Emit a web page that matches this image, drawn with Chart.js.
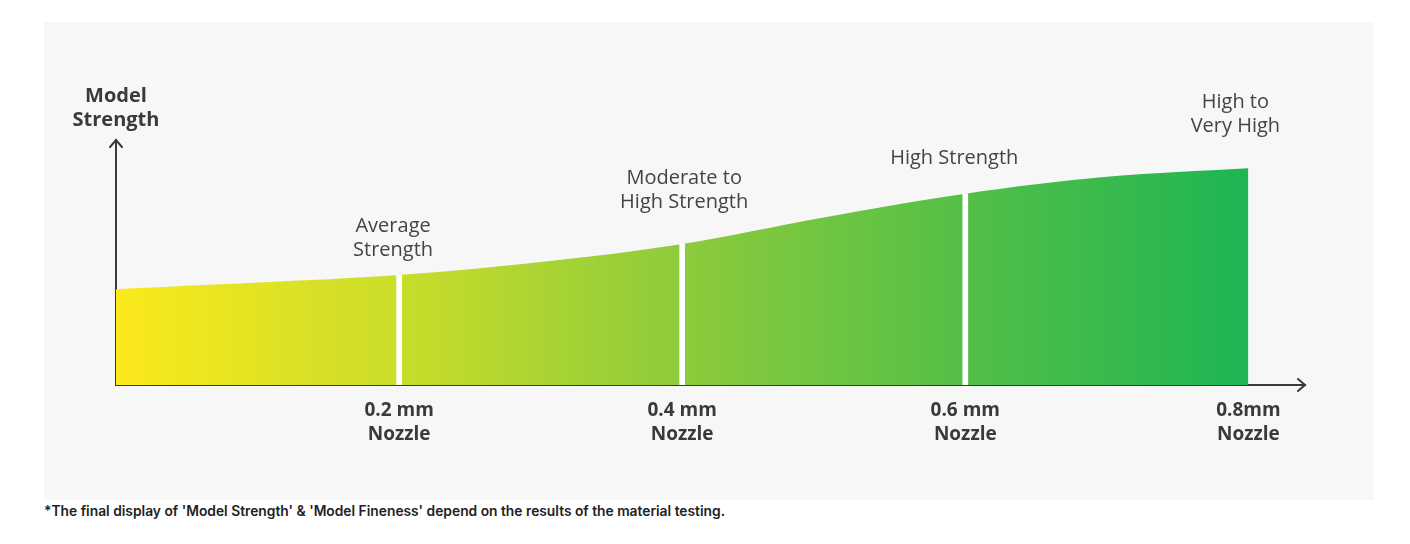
<!DOCTYPE html>
<html>
<head>
<meta charset="utf-8">
<script src="https://cdn.jsdelivr.net/npm/chart.js@4.4.1/dist/chart.umd.min.js"></script>
<style>
  html, body { margin: 0; padding: 0; background: #ffffff; }
  body { width: 1410px; height: 544px; position: relative; overflow: hidden; }
  #panel { position: absolute; left: 44px; top: 22px; width: 1330px; height: 478px; background: #f7f7f7; }
  #panel canvas { display: block; }
  #note {
    position: absolute; left: 44px; top: 503px;
    font-family: Inter, "Noto Sans", sans-serif; font-weight: 600; font-size: 13.8px;
    color: #222; white-space: nowrap;
  }
</style>
</head>
<body>
<div id="panel"><canvas id="chart" width="1330" height="478"></canvas></div>
<div id="note">*The final display of 'Model Strength' &amp; 'Model Fineness' depend on the results of the material testing.</div>
<script>
// ---- data ----
const nozzleSizes = [0.2, 0.4, 0.6, 0.8];
const tickLabels = [['0.2 mm', 'Nozzle'], ['0.4 mm', 'Nozzle'], ['0.6 mm', 'Nozzle'], ['0.8mm', 'Nozzle']];
const curveX = [0, 0.1, 0.2, 0.3, 0.4, 0.5, 0.6, 0.7, 0.8];
const curveY = [39.1, 41.8, 44.9, 50.2, 57.6, 68.4, 78.1, 85.0, 88.5];
const dividerX = [0.2, 0.4, 0.6];
const strengthLabels = [['Average', 'Strength'], ['Moderate to', 'High Strength'], ['High Strength'], ['High to', 'Very High']];
const axisTitle = ['Model', 'Strength'];

const curveAt = (x) => curveY[curveX.indexOf(x)];

const AXIS = '#3a3a3a';
const TEXT = '#444444';

function fillGradient(ctx) {
  const chart = ctx.chart;
  const { chartArea, scales } = chart;
  if (!chartArea) return '#8ccb3b';
  const x0 = scales.x.getPixelForValue(0);
  const x1 = scales.x.getPixelForValue(0.8);
  const g = chart.ctx.createLinearGradient(x0, 0, x1, 0);
  g.addColorStop(0, '#fce91c');
  g.addColorStop(0.25, '#c9dd2a');
  g.addColorStop(0.5, '#8dcb3b');
  g.addColorStop(0.75, '#53bf47');
  g.addColorStop(1, '#1eb553');
  return g;
}

// arrows + text annotations
const decor = {
  id: 'decor',
  afterDraw(chart, args, opts) {
    const { ctx, chartArea: a, scales } = chart;
    ctx.save();
    // arrow heads
    ctx.strokeStyle = AXIS;
    ctx.lineWidth = 2;
    ctx.lineCap = 'round';
    ctx.beginPath();
    ctx.moveTo(a.left - 6, a.top + 7);
    ctx.lineTo(a.left, a.top);
    ctx.lineTo(a.left + 6, a.top + 7);
    ctx.moveTo(a.right - 7, a.bottom - 6);
    ctx.lineTo(a.right, a.bottom);
    ctx.lineTo(a.right - 7, a.bottom + 6);
    ctx.stroke();

    // axis title
    ctx.fillStyle = AXIS;
    ctx.textAlign = 'center';
    ctx.textBaseline = 'middle';
    ctx.font = 'bold 20px "Open Sans", sans-serif';
    axisTitle.forEach((t, i) => {
      ctx.fillText(t, a.left, a.top - 20 - (axisTitle.length - 1 - i) * 24);
    });

    // strength labels above the curve
    ctx.fillStyle = TEXT;
    ctx.font = '20px "Open Sans", sans-serif';
    strengthLabels.forEach((lines, i) => {
      const v = nozzleSizes[i];
      const x = scales.x.getPixelForValue(v) + opts.dx[i];
      const yb = scales.y.getPixelForValue(curveAt(v)) - opts.lift[i];
      lines.forEach((t, j) => {
        ctx.fillText(t, x, yb - (lines.length - 1 - j) * 24);
      });
    });
    ctx.restore();
  }
};

new Chart(document.getElementById('chart'), {
  type: 'line',
  data: {
    datasets: [
      {
        type: 'bar',
        data: dividerX.map(x => ({ x, y: curveAt(x) })),
        backgroundColor: '#ffffff',
        borderWidth: 0,
        barThickness: 5,
        order: 0,
      },
      {
        data: curveX.map((x, i) => ({ x, y: curveY[i] })),
        fill: 'origin',
        backgroundColor: fillGradient,
        borderColor: 'transparent',
        borderWidth: 0,
        pointRadius: 0,
        tension: 0.35,
        order: 1,
      },
    ],
  },
  options: {
    responsive: false,
    animation: false,
    events: [],
    layout: { padding: { top: 118, left: 64, right: 69, bottom: 47 } },
    plugins: {
      legend: { display: false },
      tooltip: { enabled: false },
      decor: { dx: [-6, 2, -11, -13], lift: [25, 42, 35, 42] },
    },
    scales: {
      x: {
        type: 'linear',
        min: 0,
        max: 0.84,
        offset: false,
        z: 1,
        grid: { display: false },
        border: { color: AXIS, width: 2 },
        afterBuildTicks: (scale) => { scale.ticks = nozzleSizes.map(v => ({ value: v })); },
        ticks: {
          autoSkip: false,
          maxRotation: 0,
          padding: 6,
          color: AXIS,
          font: { family: '"Open Sans", sans-serif', size: 19, weight: 'bold', lineHeight: '24px' },
          callback: (v, i) => tickLabels[i],
        },
      },
      y: {
        min: 0,
        max: 100,
        z: 1,
        grid: { display: false },
        border: { color: AXIS, width: 2 },
        ticks: { display: false },
      },
    },
  },
  plugins: [decor],
});
</script>
</body>
</html>
